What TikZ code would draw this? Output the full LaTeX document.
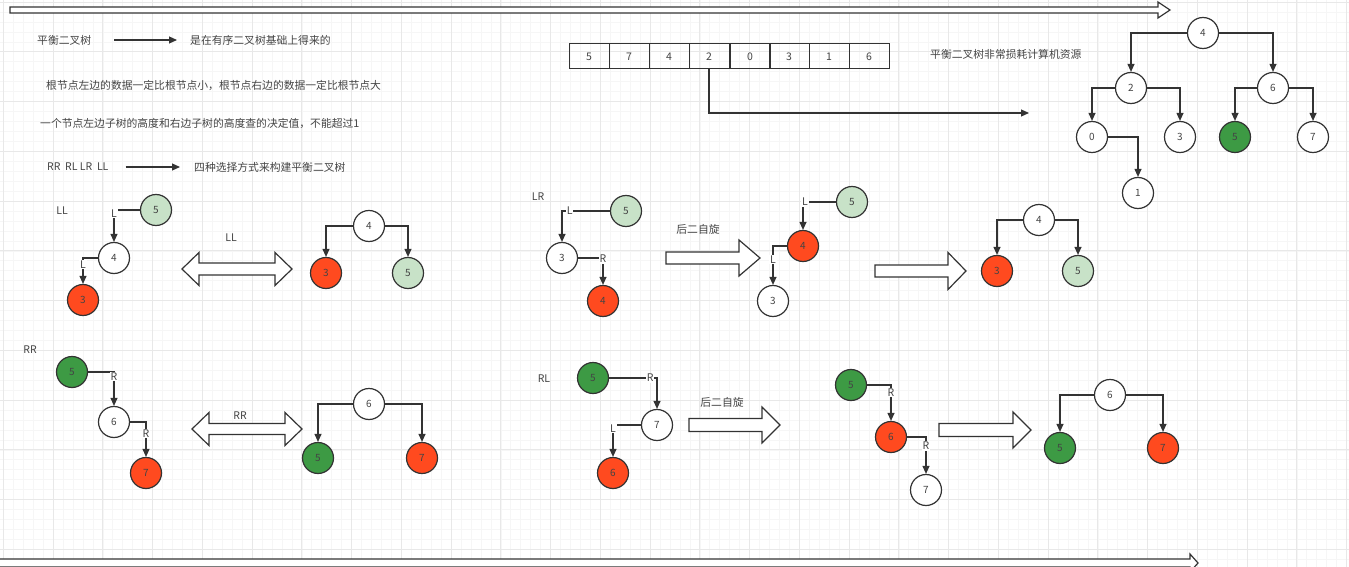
\documentclass[tikz,border=0pt]{standalone}
\usepackage{fontspec}
\setmainfont{Noto Sans CJK SC}
\usetikzlibrary{arrows.meta}
\definecolor{ink}{HTML}{333333}
\definecolor{txt}{HTML}{444444}
\definecolor{dgreen}{HTML}{3D9A44}
\definecolor{lgreen}{HTML}{C8E2C8}
\definecolor{tred}{HTML}{FF4A1F}
\definecolor{gmaj}{HTML}{E8E8E8}
\definecolor{gmin}{HTML}{F6F6F6}
\tikzset{
 tn/.style={circle, draw=ink, line width=1.2pt, minimum size=31pt, inner sep=0pt, font=\fontsize{10}{11}\selectfont, text=txt, fill=white},
 wn/.style={tn},
 gn/.style={tn, fill=dgreen},
 ln/.style={tn, fill=lgreen},
 rn/.style={tn, fill=tred},
 con/.style={draw=ink, line width=1.1pt, -{Triangle[length=8pt,width=7pt]}},
 el/.style={fill=white, inner sep=0.8pt, text=txt, font=\fontsize{10.5}{11}\selectfont},
 lbl/.style={text=txt, font=\fontsize{10.8}{12}\selectfont, inner sep=0pt},
 slbl/.style={text=txt, font=\fontsize{10.5}{12}\selectfont, inner sep=0pt},
 cell/.style={draw=ink, line width=1pt, minimum width=40pt, minimum height=25pt, inner sep=0pt, text=txt, font=\fontsize{10.5}{11}\selectfont},
 barrow/.style={draw=ink, line width=1.2pt, fill=white, line join=miter},
}
\newcommand{\myrarrow}[6]{\draw[barrow] ({#1},{#3-#4}) -- ({#2-#6},{#3-#4}) -- ({#2-#6},{#3-#5}) -- ({#2},{#3}) -- ({#2-#6},{#3+#5}) -- ({#2-#6},{#3+#4}) -- ({#1},{#3+#4}) -- cycle;}
\newcommand{\mydarrow}[6]{\draw[barrow] ({#1},{#3}) -- ({#1+#6},{#3-#5}) -- ({#1+#6},{#3-#4}) -- ({#2-#6},{#3-#4}) -- ({#2-#6},{#3-#5}) -- ({#2},{#3}) -- ({#2-#6},{#3+#5}) -- ({#2-#6},{#3+#4}) -- ({#1+#6},{#3+#4}) -- ({#1+#6},{#3+#5}) -- cycle;}
\begin{document}
\begin{tikzpicture}[x=1pt,y=-1pt]
\clip (0,0) rectangle (1349,567);
\fill[white] (0,0) rectangle (1349,567);
% grid
\foreach \i in {0,...,136} \draw[gmin, line width=0.5pt] ({3.25+9.95*\i},0) -- ({3.25+9.95*\i},567);
\foreach \i in {0,...,57} \draw[gmin, line width=0.5pt] (0,{2+9.95*\i}) -- (1349,{2+9.95*\i});
\foreach \i in {0,...,27} \draw[gmaj, line width=0.6pt] ({3.25+49.75*\i},0) -- ({3.25+49.75*\i},567);
\foreach \i in {0,...,11} \draw[gmaj, line width=0.6pt] (0,{2+49.75*\i}) -- (1349,{2+49.75*\i});

% long arrows top and bottom
\myrarrow{10}{1170}{10}{3}{8}{12}
\myrarrow{-5}{1198}{563}{4}{9}{8}

% intro texts
\node[lbl, anchor=west] (h1) at (37,40) {平衡二叉树};
\node[lbl, anchor=west] (h2) at (190,40) {是在有序二叉树基础上得来的};
\draw[con] ([xshift=23pt]h1.east) -- ([xshift=-13pt]h2.west);
\node[lbl, anchor=west] (h3) at (46,86) {根节点左边的数据一定比根节点小，根节点右边的数据一定比根节点大};
\node[lbl, anchor=west] (h4) at (40,124) {一个节点左边子树的高度和右边子树的高度查的决定值，不能超过1};
\node[slbl, anchor=west] (h5) at (47,167) {RR\ \ RL LR\ \ LL};
\node[lbl, anchor=west] (h6) at (194,167) {四种选择方式来构建平衡二叉树};
\draw[con] ([xshift=17pt]h5.east) -- ([xshift=-14pt]h6.west);

% array
\node[cell] (c1) at (589,56.5) {5};
\node[cell] (c2) at (629,56.5) {7};
\node[cell] (c3) at (669,56.5) {4};
\node[cell] (c4) at (709,56.5) {2};
\node[cell] (c5) at (750,56.5) {0};
\node[cell] (c6) at (789,56.5) {3};
\node[cell] (c7) at (829,56.5) {1};
\node[cell] (c8) at (869,56.5) {6};
\coordinate (arrEnd) at (1029,113);
\draw[con] (c4.south) |- (arrEnd);
\node[lbl, anchor=west] (h7) at (930,54) {平衡二叉树非常损耗计算机资源};

% top-right tree
\node[wn] (t4) at (1203,33) {4};
\node[wn] (t2) at (1131,88) {2};
\node[wn] (t6) at (1273,88) {6};
\node[wn] (t0) at (1092,137) {0};
\node[wn] (t3) at (1180,137) {3};
\node[gn] (t5) at (1235,137) {5};
\node[wn] (t7) at (1313,137) {7};
\node[wn] (t1) at (1138,193) {1};
\draw[con] (t4.west) -| (t2.north);
\draw[con] (t4.east) -| (t6.north);
\draw[con] (t2.west) -| (t0.north);
\draw[con] (t2.east) -| (t3.north);
\draw[con] (t6.west) -| (t5.north);
\draw[con] (t6.east) -| (t7.north);
\draw[con] (t0.east) -| (t1.north);

% LL
\node[slbl] (llT) at (62,211) {LL};
\node[ln] (ll5) at (156,210) {5};
\node[wn] (ll4) at (114,258) {4};
\node[rn] (ll3) at (83,300) {3};
\draw[con] (ll5.west) -| node[el, pos=0.56] {L} (ll4.north);
\draw[con] (ll4.west) -| node[el, pos=0.62] {L} (ll3.north);
\node[slbl] (llA) at (231,238) {LL};
\mydarrow{182}{292}{269}{6}{16.5}{17}
\node[wn] (lr4) at (369,226) {4};
\node[rn] (lr3) at (326,273) {3};
\node[ln] (lr5) at (408,273) {5};
\draw[con] (lr4.west) -| (lr3.north);
\draw[con] (lr4.east) -| (lr5.north);

% RR
\node[slbl] (rrT) at (30,350) {RR};
\node[gn] (rr5) at (72,372) {5};
\node[wn] (rr6) at (114,422) {6};
\node[rn] (rr7) at (146,473) {7};
\draw[con] (rr5.east) -| node[el, pos=0.57] {R} (rr6.north);
\draw[con] (rr6.east) -| node[el, pos=0.66] {R} (rr7.north);
\node[slbl] (rrA) at (240,416) {RR};
\mydarrow{192}{302}{429}{5.5}{16.5}{17}
\node[wn] (rq6) at (369,404) {6};
\node[gn] (rq5) at (318,458) {5};
\node[rn] (rq7) at (422,458) {7};
\draw[con] (rq6.west) -| (rq5.north);
\draw[con] (rq6.east) -| (rq7.north);

% LR
\node[slbl] (lrT) at (538,197) {LR};
\node[ln] (a5) at (626,211) {5};
\node[wn] (a3) at (562,258) {3};
\node[rn] (a4) at (603,301) {4};
\draw[con] (a5.west) -| node[el, pos=0.42] {L} (a3.north);
\draw[con] (a3.east) -| node[el, pos=0.52] {R} (a4.north);
\node[lbl] (lrR1) at (698,229) {后二自旋};
\myrarrow{666}{760}{258}{6}{18}{21}
\node[ln] (b5) at (852,202) {5};
\node[rn] (b4) at (803,246) {4};
\node[wn] (b3) at (773,301) {3};
\draw[con] (b5.west) -| node[el, pos=0.47] {L} (b4.north);
\draw[con] (b4.west) -| node[el, pos=0.67] {L} (b3.north);
\myrarrow{875}{966}{271}{6}{18.5}{18}
\node[wn] (d4) at (1039,220) {4};
\node[rn] (d3) at (997,271) {3};
\node[ln] (d5) at (1078,271) {5};
\draw[con] (d4.west) -| (d3.north);
\draw[con] (d4.east) -| (d5.north);

% RL
\node[slbl] (rlT) at (544,379) {RL};
\node[gn] (e5) at (593,378) {5};
\node[wn] (e7) at (657,425) {7};
\node[rn] (e6) at (613,473) {6};
\draw[con] (e5.east) -| node[el, pos=0.43] {R} (e7.north);
\draw[con] (e7.west) -| node[el, pos=0.56] {L} (e6.north);
\node[lbl] (rlR1) at (722,402) {后二自旋};
\myrarrow{689}{780}{425}{6.5}{18}{18}
\node[gn] (f5) at (851,385) {5};
\node[rn] (f6) at (891,437) {6};
\node[wn] (f7) at (926,490) {7};
\draw[con] (f5.east) -| node[el, pos=0.6] {R} (f6.north);
\draw[con] (f6.east) -| node[el, pos=0.62] {R} (f7.north);
\myrarrow{939}{1031}{430}{6.5}{18}{18}
\node[wn] (g6) at (1110,395) {6};
\node[gn] (g5) at (1060,448) {5};
\node[rn] (g7) at (1163,448) {7};
\draw[con] (g6.west) -| (g5.north);
\draw[con] (g6.east) -| (g7.north);
\end{tikzpicture}
\end{document}
